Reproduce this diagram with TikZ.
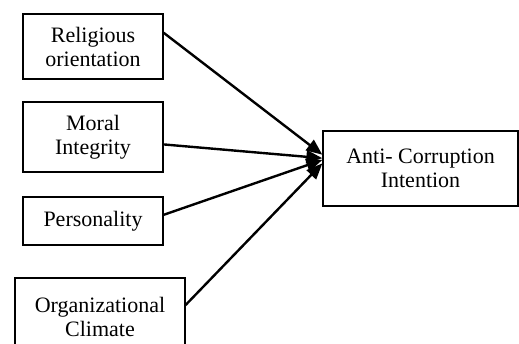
\documentclass[tikz,border=0pt]{standalone}
\usepackage{fontspec}
\setmainfont{Liberation Serif}
\usetikzlibrary{arrows.meta}
\tikzset{
  factor/.style={draw, line width=1.3pt, align=center, inner sep=0pt,
    font=\fontsize{22}{24}\selectfont},
  link/.style={line width=2.4pt, -{Triangle[length=16pt,width=13pt]}}
}

\begin{document}
\begin{tikzpicture}[x=1pt,y=-1pt]
			\useasboundingbox (0,0) rectangle (519,343);
			\node[factor, minimum width=140pt, minimum height=65pt] (rel) at (93, 46.5) {Religious\\orientation};
			\node[factor, minimum width=140pt, minimum height=70pt] (mor) at (93, 137) {Moral\\Integrity};
			\node[factor, minimum width=140pt, minimum height=48pt] (per) at (93, 221) {Personality};
			\node[factor, minimum width=170pt, minimum height=78pt] (org) at (100, 317) {Organizational\\Climate};
			\node[factor, minimum width=195pt, minimum height=75pt] (aci) at (420.5, 168.5) {Anti- Corruption\\Intention};
			\draw[link] (rel.11) to (aci.172);
			\draw[link] (mor.-6) to (aci.174);
			\draw[link] (per.5) to (aci.175);
			\draw[link] (org.8) to (aci.177);
		\end{tikzpicture}
\end{document}
